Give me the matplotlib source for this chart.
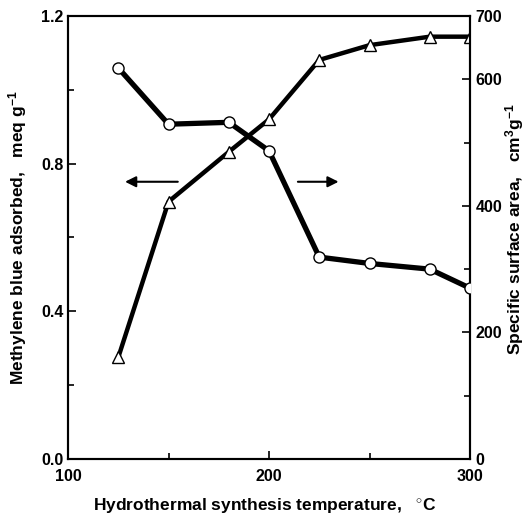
import matplotlib
matplotlib.use("Agg")
import matplotlib.pyplot as plt
from matplotlib.ticker import MultipleLocator

plt.rcParams['font.family'] = ['Liberation Sans', 'DejaVu Sans']
plt.rcParams['font.weight'] = 'bold'
plt.rcParams['mathtext.fontset'] = 'custom'
plt.rcParams['mathtext.rm'] = 'Liberation Sans:bold'
plt.rcParams['mathtext.bf'] = 'Liberation Sans:bold'
plt.rcParams['mathtext.default'] = 'bf'

# Hydrothermal synthesis temperature (deg C)
temperature = [125, 150, 180, 200, 225, 250, 280, 300]
# Methylene blue adsorbed (meq/g), triangles, left axis
mb_adsorbed = [0.275, 0.697, 0.832, 0.920, 1.081, 1.121, 1.144, 1.144]
# Specific surface area (cm3/g), circles, right axis
surface_area = [618, 529, 532, 487, 319, 309, 300, 270]

fig = plt.figure(figsize=(5.28, 5.15), dpi=100)
ax = fig.add_axes([68 / 528, 1 - 459 / 515, 402 / 528, 443 / 515])
ax2 = ax.twinx()

ax.plot(temperature, mb_adsorbed, color='black', lw=3.2, marker='^',
        markersize=8.5, markerfacecolor='white', markeredgecolor='black',
        markeredgewidth=1.0, zorder=3)
ax2.plot(temperature, surface_area, color='black', lw=3.8, marker='o',
         markersize=8, markerfacecolor='white', markeredgecolor='black',
         markeredgewidth=1.0, zorder=3)

ax.set_xlim(100, 300)
ax.set_ylim(0, 1.2)
ax2.set_ylim(0, 700)

ax.set_xticks([100, 200, 300])
ax.set_xticklabels(['100', '200', '300'])
ax.xaxis.set_minor_locator(MultipleLocator(50))
ax.set_yticks([0.0, 0.4, 0.8, 1.2])
ax.set_yticklabels(['0.0', '0.4', '0.8', '1.2'])
ax.yaxis.set_minor_locator(MultipleLocator(0.2))
ax2.set_yticks([0, 200, 400, 600, 700])
ax2.set_yticklabels(['0', '200', '400', '600', '700'])
ax2.yaxis.set_minor_locator(MultipleLocator(100))

for a in (ax, ax2):
    a.tick_params(which='both', direction='in', labelsize=11.5, width=1.2)
    a.tick_params(which='major', length=6)
    a.tick_params(which='minor', length=4)
    for s in a.spines.values():
        s.set_linewidth(1.5)
ax.tick_params(axis='x', pad=7)
ax.tick_params(axis='y', pad=3)
ax2.tick_params(axis='y', pad=4)

ax.set_xlabel('Hydrothermal synthesis temperature,   $^{\\circ}$C',
              fontsize=12.5, fontweight='bold')
ax.xaxis.set_label_coords(0.49, -0.083)
ax.set_ylabel('Methylene blue adsorbed,   meq g$^{-1}$',
              fontsize=12.5, fontweight='bold')
ax.yaxis.set_label_coords(-0.098, 0.5)
ax2.set_ylabel('Specific surface area,   cm$^{3}$g$^{-1}$',
               fontsize=12.5, fontweight='bold', rotation=90)
ax2.yaxis.set_label_coords(1.082, 0.52)

# direction arrows
ax.annotate('', xy=(127, 0.751), xytext=(156, 0.751),
            arrowprops=dict(arrowstyle='-|>', color='black', lw=1.5,
                            mutation_scale=16))
ax.annotate('', xy=(236, 0.751), xytext=(213, 0.751),
            arrowprops=dict(arrowstyle='-|>', color='black', lw=1.5,
                            mutation_scale=16))

fig.savefig('out.png', dpi=100)
